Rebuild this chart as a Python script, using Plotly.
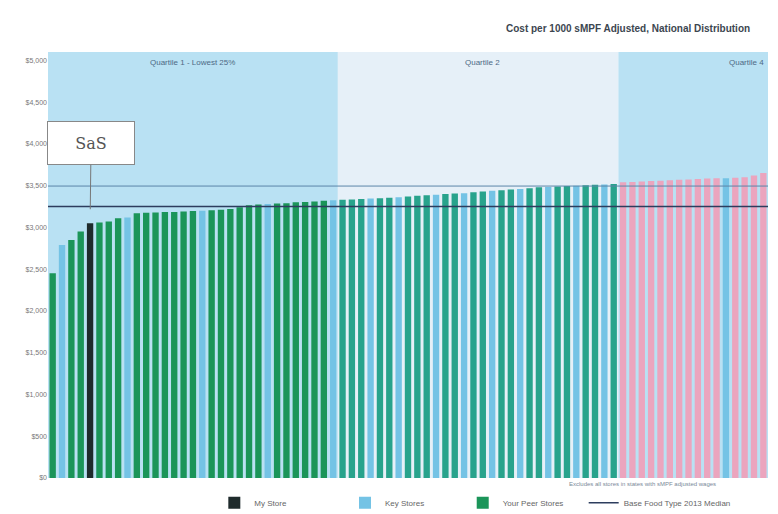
import plotly.graph_objects as go

# Cost per store, sorted ascending (one bar per store)
cost_values = [
    2450, 2790, 2850, 2950, 3050, 3060, 3070, 3110, 3120, 3170,
    3175, 3180, 3185, 3185, 3190, 3195, 3200, 3205, 3210, 3220,
    3240, 3265, 3275, 3280, 3285, 3290, 3300, 3305, 3310, 3320,
    3325, 3330, 3335, 3340, 3345, 3350, 3355, 3360, 3370, 3380,
    3385, 3390, 3400, 3405, 3410, 3420, 3430, 3440, 3445, 3455,
    3460, 3470, 3480, 3485, 3490, 3495, 3500, 3505, 3510, 3515,
    3520, 3540, 3545, 3550, 3555, 3560, 3565, 3570, 3575, 3580,
    3585, 3588, 3590, 3595, 3600, 3620, 3650,
]

# Store group of each bar: "my", "key" or "peer"
store_group = ["peer"] * len(cost_values)
my_store_index = 4
key_store_indices = [1, 8, 16, 23, 30, 34, 37, 41, 44, 47, 50, 53, 56, 59, 72]
store_group[my_store_index] = "my"
for i in key_store_indices:
    store_group[i] = "key"

# Quartile bands: first bar index of each band
band_starts = [0, 31, 61]
band_labels = ["Quartile 1 - Lowest 25%", "Quartile 2", "Quartile 4"]

median_value = 3250
upper_ref_value = 3495

y_ticks = list(range(0, 5001, 500))

n = len(cost_values)
idx = list(range(n))
bar_w = 0.68

band_fill = ["#b9e1f3", "#e6f0f8", "#b9e1f3"]
peer_band_colors = ["#1b9559", "#28a38c", "#eba5be"]


def band_of(i):
    b = 0
    for k, s in enumerate(band_starts):
        if i >= s:
            b = k
    return b


fig = go.Figure()

my_x = [i for i in idx if store_group[i] == "my"]
fig.add_trace(go.Bar(
    x=my_x, y=[cost_values[i] for i in my_x], width=bar_w,
    marker=dict(color="#1f2b2c", line=dict(width=0)),
    name="My Store", legend="legend",
))
key_x = [i for i in idx if store_group[i] == "key"]
fig.add_trace(go.Bar(
    x=key_x, y=[cost_values[i] for i in key_x], width=bar_w,
    marker=dict(color="#74c3e5", line=dict(width=0)),
    name="Key Stores", legend="legend2",
))
# Peer stores, coloured by quartile band
peer_x = [i for i in idx if store_group[i] == "peer"]
fig.add_trace(go.Bar(
    x=peer_x, y=[cost_values[i] for i in peer_x], width=bar_w,
    marker=dict(color=[peer_band_colors[band_of(i)] for i in peer_x], line=dict(width=0)),
    name="Your Peer Stores", legend="legend3",
))
# Reference lines
fig.add_trace(go.Scatter(
    x=[-0.5, n - 0.5], y=[upper_ref_value, upper_ref_value], mode="lines",
    line=dict(color="#5c86a8", width=1), showlegend=False, hoverinfo="skip",
))
fig.add_trace(go.Scatter(
    x=[-0.5, n - 0.5], y=[median_value, median_value], mode="lines",
    line=dict(color="#2d3d5e", width=1.5),
    name="Base Food Type 2013 Median", legend="legend4",
))

# Quartile background bands and their labels
edges = [s - 0.5 for s in band_starts] + [n - 0.5]
for k in range(len(band_starts)):
    fig.add_shape(type="rect", xref="x", yref="paper",
                  x0=edges[k], x1=edges[k + 1], y0=0, y1=1,
                  fillcolor=band_fill[k], line=dict(width=0), layer="below")

label_font = dict(size=8, color="#4d6a85")
fig.add_annotation(x=15, y=1, xref="x", yref="paper", yanchor="top", yshift=-4,
                   text=band_labels[0], showarrow=False, font=label_font)
fig.add_annotation(x=46, y=1, xref="x", yref="paper", yanchor="top", yshift=-4,
                   text=band_labels[1], showarrow=False, font=label_font)
fig.add_annotation(x=1, y=1, xref="paper", yref="paper", yanchor="top", xanchor="right",
                   xshift=-2, yshift=-4, text=band_labels[2], showarrow=False,
                   font=label_font)

# Callout for my store
fig.add_annotation(
    x=my_store_index, y=cost_values[my_store_index], xref="x", yref="y",
    text="SaS", showarrow=True, arrowhead=0, arrowwidth=1, arrowcolor="#777",
    ax=1, ay=-80, standoff=14,
    bgcolor="white", bordercolor="#888", borderwidth=1, borderpad=4,
    width=78, height=34,
    font=dict(family="DejaVu Serif, serif", size=16, color="#555"),
)

# Title and footnote
fig.add_annotation(
    x=1, y=1, xref="paper", yref="paper", xanchor="right", yanchor="bottom",
    xshift=-16, yshift=16,
    text="<b>Cost per 1000 sMPF Adjusted, National Distribution</b>",
    showarrow=False, font=dict(size=10, color="#3c4650"),
)
fig.add_annotation(
    x=0.93, y=0, xref="paper", yref="paper", xanchor="right", yanchor="top", yshift=-1,
    text="Excludes all stores in states with sMPF adjusted wages",
    showarrow=False, font=dict(size=6, color="#7a8a99"),
)

legend_style = dict(orientation="h", xanchor="left", yref="container", y=0.022,
                    yanchor="middle", font=dict(size=8, color="#666"),
                    bgcolor="rgba(0,0,0,0)")

fig.update_layout(
    width=778, height=514,
    margin=dict(l=48, r=10, t=52, b=36, autoexpand=False),
    paper_bgcolor="white", plot_bgcolor="white",
    barmode="overlay",
    showlegend=True,
    legend=dict(x=0.231, **legend_style),
    legend2=dict(x=0.4125, **legend_style),
    legend3=dict(x=0.576, **legend_style),
    legend4=dict(x=0.744, **legend_style),
    font=dict(family="Liberation Sans, Arial, sans-serif"),
    xaxis=dict(range=[-0.5, n - 0.5], showticklabels=False, showgrid=False,
               zeroline=False, showline=False, ticks=""),
    yaxis=dict(range=[0, 5100], tickvals=y_ticks,
               ticktext=["$" + format(v, ",") for v in y_ticks],
               showgrid=False, zeroline=False, showline=False, ticks="",
               tickfont=dict(size=7, color="#777")),
)

fig.write_html("out.html")
